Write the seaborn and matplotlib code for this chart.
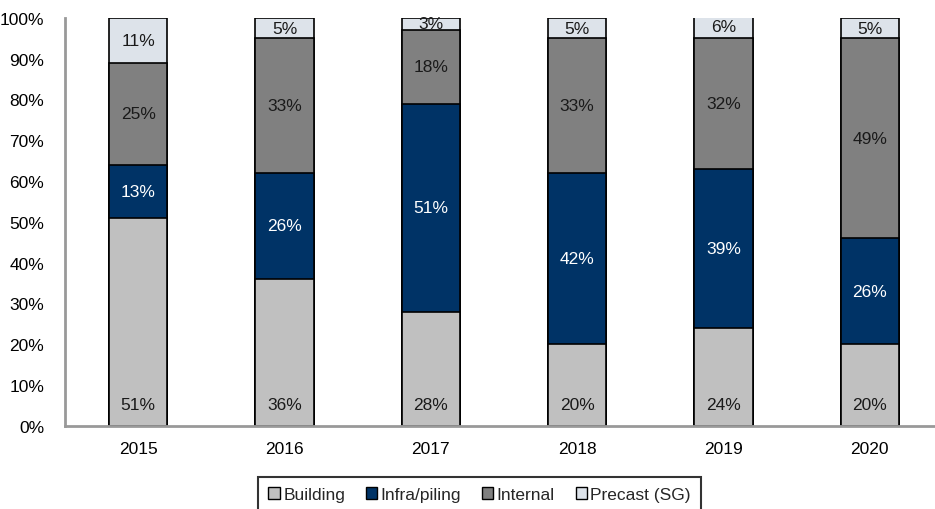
import matplotlib
matplotlib.use("Agg")
import matplotlib.pyplot as plt
from matplotlib.patches import Patch
from matplotlib.ticker import FixedLocator, PercentFormatter
import numpy as np
import pandas as pd
import seaborn as sns

# Revenue mix by segment, % of total
years = ["2015", "2016", "2017", "2018", "2019", "2020"]
segments = ["Building", "Infra/piling", "Internal", "Precast (SG)"]
building = [51, 36, 28, 20, 24, 20]
infra_piling = [13, 26, 51, 42, 39, 26]
internal = [25, 33, 18, 33, 32, 49]
precast = [11, 5, 3, 5, 6, 5]

colors = ["#C0C0C0", "#003366", "#808080", "#DDE3EA"]
label_colors = ["#1a1a1a", "white", "#1a1a1a", "#1a1a1a"]

sns.set_style("white")
plt.rcParams["font.family"] = ["Liberation Sans", "DejaVu Sans"]
FS = 12.5
plt.rcParams["font.size"] = FS

layers = [building, infra_piling, internal, precast]
cum = np.cumsum(np.array(layers, dtype=float), axis=0)

df = pd.DataFrame({"year": years})
for name, c in zip(segments, cum):
    df[name] = c

fig = plt.figure(figsize=(9.35, 5.10), dpi=100)
ax = fig.add_axes([0.0695, 0.163, 0.939, 0.8])

# stacked bars: draw cumulative totals from the top layer down
for i in range(len(segments) - 1, -1, -1):
    sns.barplot(data=df, x="year", y=segments[i], order=years, color=colors[i],
                width=0.4, edgecolor="black", linewidth=1.2, saturation=1,
                ax=ax)

# segment labels
for j in range(len(years)):
    for i, vals in enumerate(layers):
        v = vals[j]
        lo = cum[i][j] - v
        y = 5.3 if i == 0 else lo + v / 2
        ax.text(j, y, f"{v}%", ha="center", va="center",
                color=label_colors[i], fontsize=FS)

ax.set_xlim(-0.5, len(years) - 0.5)
ax.set_ylim(0, 100)
ax.yaxis.set_major_locator(FixedLocator(np.arange(0, 101, 10)))
ax.yaxis.set_major_formatter(PercentFormatter(decimals=0))
ax.set_xlabel("")
ax.set_ylabel("")

ax.xaxis.set_minor_locator(FixedLocator(np.arange(-0.5, len(years), 1.0)))
ax.tick_params(axis="x", which="major", length=0, pad=11, labelsize=FS,
               colors="black")
ax.tick_params(axis="x", which="minor", length=5, width=1.5, color="#999999",
               direction="out")
ax.tick_params(axis="y", which="major", length=5, width=1.5, color="#999999",
               direction="out", pad=10, labelsize=FS, labelcolor="black")

for side in ["top", "right"]:
    ax.spines[side].set_visible(False)
for side in ["left", "bottom"]:
    ax.spines[side].set_color("#999999")
    ax.spines[side].set_linewidth(2)

handles = [Patch(facecolor=c, edgecolor="black", linewidth=1.0) for c in colors]
leg = fig.legend(handles, segments, loc="upper center", ncol=4,
                 bbox_to_anchor=(0.513, 0.080), frameon=True, fancybox=False,
                 handlelength=0.65, handleheight=0.65, handletextpad=0.2,
                 columnspacing=1.2, borderpad=0.6, fontsize=FS)
leg.get_frame().set_edgecolor("black")
leg.get_frame().set_linewidth(1.5)

fig.savefig("out.png", dpi=100)
